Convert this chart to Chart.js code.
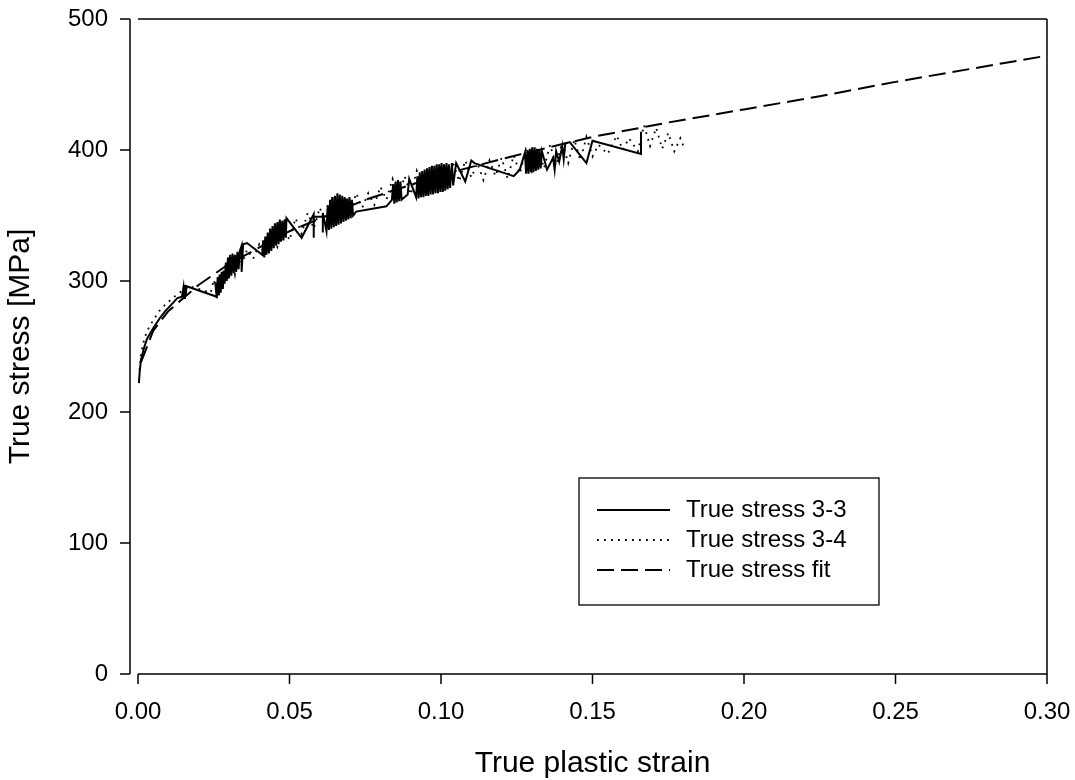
<!DOCTYPE html>
<html>
<head>
<meta charset="utf-8">
<script src="https://cdn.jsdelivr.net/npm/chart.js@4.4.1/dist/chart.umd.min.js"></script>
<style>
  html, body { margin: 0; padding: 0; background: #fff; }
  #wrap { width: 1075px; height: 780px; }
</style>
</head>
<body>
<div id="wrap"><canvas id="c" width="1075" height="780"></canvas></div>
<script>
// ---------- DATA ----------
const seriesLabels = ["True stress 3-3", "True stress 3-4", "True stress fit"];

// True stress 3-3 : [true plastic strain, true stress MPa]
const stress33 = [
  [0.0003,222],[0.0006,232],[0.001,240],[0.002,249],[0.003,256],[0.005,264],[0.007,271],[0.009,277],
  [0.011,282],[0.013,287],[0.0145,288],[0.015,295],[0.0152,287],[0.0155,297],[0.0158,290],[0.016,296],
  [0.026,288],[0.0255,299],[0.026,287],[0.0263,303],[0.0267,289],[0.027,305],[0.0273,291],[0.0276,307],
  [0.028,294],[0.0283,308],[0.0286,298],[0.029,314],[0.0293,300],[0.0297,318],[0.030,302],[0.0304,320],
  [0.0308,304],[0.0312,321],[0.0316,306],[0.032,320],[0.0324,307],[0.0328,322],[0.0332,309],[0.0336,323],
  [0.0342,327],[0.0342,307],[0.0347,328],[0.036,329],[0.041,320],
  [0.0413,331],[0.0417,318],[0.042,334],[0.0424,320],[0.0428,337],[0.0432,321],[0.0436,340],[0.044,323],
  [0.0444,342],[0.0448,325],[0.0452,344],[0.0456,327],[0.046,345],[0.0464,328],[0.0468,347],[0.0472,330],
  [0.0476,346],[0.048,331],[0.0484,347],[0.0488,333],[0.049,348],
  [0.054,333],[0.058,351],[0.058,333],[0.058,349],[0.061,349],[0.061,337],[0.061,352],
  [0.0622,338],[0.0626,358],[0.063,339],[0.0634,362],[0.0638,340],[0.0642,364],[0.0646,341],[0.065,365],
  [0.0654,342],[0.0658,367],[0.0662,343],[0.0666,366],[0.067,344],[0.0674,365],[0.0678,345],[0.0682,364],
  [0.0686,346],[0.069,363],[0.0694,347],[0.0698,364],[0.0702,348],[0.0706,362],[0.071,350],[0.072,353],
  [0.082,357],[0.0838,362],[0.0842,374],[0.0846,359],[0.085,376],[0.0854,360],[0.0858,377],[0.0862,361],
  [0.0866,376],[0.087,362],[0.089,366],[0.0895,378],
  [0.0918,364],[0.0922,380],[0.0926,363],[0.093,383],[0.0934,364],[0.0938,384],[0.0942,364],[0.0946,385],
  [0.095,365],[0.0954,386],[0.0958,365],[0.0962,387],[0.0966,366],[0.097,388],[0.0974,366],[0.0978,388],
  [0.0982,367],[0.0986,389],[0.099,367],[0.0994,389],[0.0998,368],[0.1002,390],[0.1006,368],[0.101,389],
  [0.1014,369],[0.1018,390],[0.1022,370],[0.1026,389],[0.103,371],[0.1036,390],[0.104,373],[0.105,390],
  [0.108,376],[0.110,392],[0.111,390],[0.124,380],
  [0.126,385],[0.1277,398],[0.1281,382],[0.1285,400],[0.1289,382],[0.1293,401],[0.1297,383],[0.1301,402],
  [0.1305,383],[0.1309,402],[0.1313,384],[0.1317,401],[0.1321,385],[0.1325,400],[0.1329,386],[0.1333,399],
  [0.135,385],[0.137,394],[0.1375,385],[0.138,399],[0.139,391],[0.140,403],[0.1405,393],[0.141,405],
  [0.1425,406],[0.148,390],[0.150,407],[0.166,397],[0.166,414]
];

// True stress 3-4 : [true plastic strain, true stress MPa]
const stress34 = [
  [0.0005,232],[0.001,245],[0.002,255],[0.003,262],[0.005,270],[0.007,277],[0.009,282],[0.011,286],
  [0.013,290],[0.015,293],[0.017,296],[0.020,294],[0.024,291],[0.025,301],[0.026,291],[0.027,305],
  [0.028,295],[0.029,312],[0.030,301],[0.031,318],[0.032,305],[0.033,320],[0.034,311],[0.036,324],
  [0.038,317],[0.040,328],[0.042,320],[0.044,336],[0.046,326],[0.048,342],[0.050,331],[0.052,348],
  [0.054,336],[0.056,352],[0.058,340],[0.060,356],[0.062,343],[0.064,362],[0.066,346],[0.068,364],
  [0.070,350],[0.072,367],[0.074,356],[0.076,367],[0.078,358],[0.080,372],[0.082,362],[0.084,378],
  [0.086,364],[0.088,380],[0.090,366],[0.092,384],[0.094,368],[0.096,386],[0.098,370],[0.100,388],
  [0.102,372],[0.104,390],[0.106,376],[0.108,392],[0.110,379],[0.112,390],[0.114,377],[0.116,392],
  [0.118,380],[0.120,394],[0.122,378],[0.124,396],[0.126,382],[0.128,400],[0.130,384],[0.132,402],
  [0.134,386],[0.136,404],[0.138,388],[0.140,406],[0.142,390],[0.144,408],[0.146,392],[0.148,410],
  [0.150,395],[0.152,404],[0.155,397],[0.158,411],[0.160,400],[0.162,409],[0.165,399],[0.167,419],
  [0.169,403],[0.171,417],[0.173,401],[0.175,413],[0.177,399],[0.179,409],[0.180,403]
];

// True stress fit : [true plastic strain, true stress MPa]
const stressFit = [
  [0.001,238],[0.005,262],[0.01,277],[0.02,297],[0.03,313],[0.05,338],[0.075,362],[0.10,381],
  [0.125,396],[0.15,410],[0.175,421],[0.20,431],[0.225,441],[0.25,452],[0.275,462],[0.30,472]
];

const xTickValues = [0, 0.05, 0.10, 0.15, 0.20, 0.25, 0.30];
const yTickValues = [0, 100, 200, 300, 400, 500];
const xTitle = "True plastic strain";
const yTitle = "True stress [MPa]";

// ---------- CHART ----------
const FONT = "'Liberation Sans', Arial, Helvetica, sans-serif";
const toPts = arr => arr.map(p => ({x: p[0], y: p[1]}));

const axesPlugin = {
  id: 'axesFrame',
  afterDraw(chart) {
    const {ctx, chartArea: a, scales: {x, y}} = chart;
    ctx.save();
    ctx.strokeStyle = '#000';
    ctx.lineWidth = 1.5;
    ctx.setLineDash([]);
    const yAxisX = a.left - 8;
    ctx.beginPath();
    ctx.moveTo(yAxisX, a.top); ctx.lineTo(yAxisX, a.bottom);
    yTickValues.forEach(v => { const py = y.getPixelForValue(v); ctx.moveTo(yAxisX - 10, py); ctx.lineTo(yAxisX, py); });
    ctx.moveTo(a.left, a.bottom); ctx.lineTo(a.right, a.bottom);
    xTickValues.forEach(v => { const px = x.getPixelForValue(v); ctx.moveTo(px, a.bottom); ctx.lineTo(px, a.bottom + 10); });
    ctx.moveTo(a.left, a.top); ctx.lineTo(a.right, a.top);
    ctx.moveTo(a.right, a.top); ctx.lineTo(a.right, a.bottom);
    ctx.stroke();
    ctx.restore();
  }
};

const legendPlugin = {
  id: 'boxLegend',
  afterDraw(chart, args, opts) {
    const {ctx} = chart;
    ctx.save();
    ctx.strokeStyle = '#000';
    ctx.lineWidth = 1.3;
    ctx.setLineDash([]);
    ctx.strokeRect(opts.left, opts.top, opts.width, opts.height);
    ctx.font = opts.fontSize + 'px ' + FONT;
    ctx.fillStyle = '#000';
    ctx.textBaseline = 'middle';
    ctx.textAlign = 'left';
    chart.data.datasets.forEach((ds, i) => {
      const ry = opts.top + opts.firstRow + i * opts.rowGap;
      ctx.lineWidth = ds.borderWidth;
      ctx.setLineDash(ds.borderDash || []);
      ctx.beginPath();
      ctx.moveTo(opts.left + opts.lineStart, ry);
      ctx.lineTo(opts.left + opts.lineStart + opts.lineLen, ry);
      ctx.stroke();
      ctx.setLineDash([]);
      ctx.fillText(ds.label, opts.left + opts.textStart, ry);
    });
    ctx.restore();
  }
};

new Chart(document.getElementById('c'), {
  type: 'scatter',
  data: {
    datasets: [
      { label: seriesLabels[0], data: toPts(stress33), showLine: true, borderColor: '#000', borderWidth: 2,
        borderDash: [], pointRadius: 0, tension: 0, borderJoinStyle: 'miter' },
      { label: seriesLabels[1], data: toPts(stress34), showLine: true, borderColor: '#000', borderWidth: 1.8,
        borderDash: [1.8, 5.2], pointRadius: 0, tension: 0 },
      { label: seriesLabels[2], data: toPts(stressFit), showLine: true, borderColor: '#000', borderWidth: 2,
        borderDash: [17, 7], pointRadius: 0, tension: 0 }
    ]
  },
  options: {
    responsive: false,
    animation: false,
    events: [],
    layout: { padding: { top: 19, right: 28, left: 0, bottom: 0 } },
    plugins: {
      legend: { display: false },
      tooltip: { enabled: false },
      boxLegend: { left: 579, top: 478, width: 300, height: 127, firstRow: 32, rowGap: 30,
                   lineStart: 18, lineLen: 73, textStart: 107, fontSize: 24 }
    },
    scales: {
      x: {
        type: 'linear', min: 0, max: 0.3,
        afterBuildTicks: s => { s.ticks = xTickValues.map(v => ({value: v})); },
        afterFit: s => { s.height = 106; s.paddingLeft = 0; s.paddingRight = 0; },
        grid: { display: false, drawTicks: false },
        border: { display: false },
        ticks: { color: '#000', font: { family: FONT, size: 24 }, padding: 24, maxRotation: 0,
                 callback: v => v.toFixed(2) },
        title: { display: true, text: xTitle, color: '#000', font: { family: FONT, size: 30, lineHeight: 1 },
                 padding: { top: 0, bottom: 1 } }
      },
      y: {
        type: 'linear', min: 0, max: 500,
        afterBuildTicks: s => { s.ticks = yTickValues.map(v => ({value: v})); },
        afterFit: s => { s.width = 138; s.paddingTop = 0; s.paddingBottom = 0; },
        grid: { display: false, drawTicks: false },
        border: { display: false },
        ticks: { color: '#000', font: { family: FONT, size: 24 }, padding: 30,
                 callback: v => String(v) },
        title: { display: true, text: yTitle, color: '#000', font: { family: FONT, size: 30, lineHeight: 1 },
                 padding: { top: 6, bottom: 0 } }
      }
    }
  },
  plugins: [axesPlugin, legendPlugin]
});
</script>
</body>
</html>
